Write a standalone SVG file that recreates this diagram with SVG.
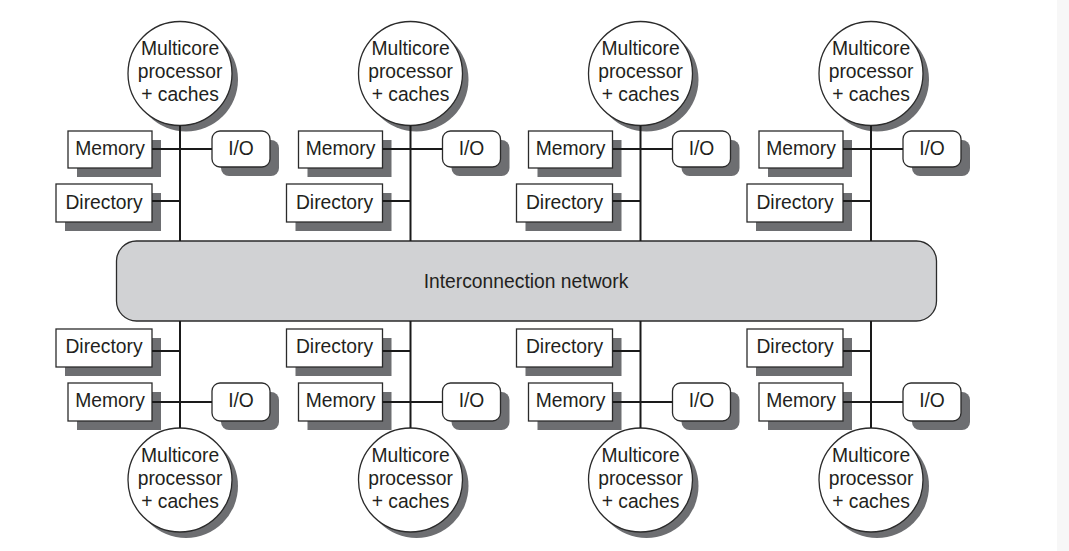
<svg xmlns="http://www.w3.org/2000/svg" width="1069" height="551" viewBox="0 0 1069 551">
<style>
.sh{fill:#6d6e71}
.box{fill:#ffffff;stroke:#2b2b2b;stroke-width:1.3}
.net{fill:#d1d2d4;stroke:#2b2b2b;stroke-width:1.3}
.t{font-family:"Liberation Sans",Arial,Helvetica,sans-serif;font-size:19.3px;fill:#231f20;text-anchor:middle}
.ln{stroke:#1a1a1a;stroke-width:2;fill:none}
</style>
<rect x="0" y="0" width="1069" height="551" fill="#ffffff"/>
<rect x="1057" y="0" width="12" height="551" fill="#f7f7f7"/>

<g id="network">
<rect class="net" x="116.5" y="241" width="820" height="80" rx="20"/>
<text class="t" x="526" y="288">Interconnection network</text>
</g>

<!-- Column 1 top -->
<g id="proc-t1"><circle class="sh" cx="186" cy="79.5" r="52"/><circle class="box" cx="180" cy="73.5" r="52"/><text class="t" x="180" y="55">Multicore</text><text class="t" x="180" y="78">processor</text><text class="t" x="180" y="101">+ caches</text></g>
<g id="mem-t1"><rect class="sh" x="77" y="140" width="84" height="37"/><rect class="box" x="68" y="131" width="84" height="37"/><text class="t" x="110" y="154.5">Memory</text></g>
<g id="io-t1"><rect class="sh" x="221" y="140" width="58" height="36" rx="8"/><rect class="box" x="212" y="131" width="58" height="36" rx="8"/><text class="t" x="241" y="154.5">I/O</text></g>
<g id="dir-t1"><rect class="sh" x="65" y="193" width="96" height="38"/><rect class="box" x="56" y="184" width="96" height="38"/><text class="t" x="104" y="208.5">Directory</text></g>

<!-- Column 2 top -->
<g id="proc-t2"><circle class="sh" cx="416.5" cy="79.5" r="52"/><circle class="box" cx="410.5" cy="73.5" r="52"/><text class="t" x="410.5" y="55">Multicore</text><text class="t" x="410.5" y="78">processor</text><text class="t" x="410.5" y="101">+ caches</text></g>
<g id="mem-t2"><rect class="sh" x="307.5" y="140" width="84" height="37"/><rect class="box" x="298.5" y="131" width="84" height="37"/><text class="t" x="340.5" y="154.5">Memory</text></g>
<g id="io-t2"><rect class="sh" x="451.5" y="140" width="58" height="36" rx="8"/><rect class="box" x="442.5" y="131" width="58" height="36" rx="8"/><text class="t" x="471.5" y="154.5">I/O</text></g>
<g id="dir-t2"><rect class="sh" x="295.5" y="193" width="96" height="38"/><rect class="box" x="286.5" y="184" width="96" height="38"/><text class="t" x="334.5" y="208.5">Directory</text></g>

<!-- Column 3 top -->
<g id="proc-t3"><circle class="sh" cx="646.5" cy="79.5" r="52"/><circle class="box" cx="640.5" cy="73.5" r="52"/><text class="t" x="640.5" y="55">Multicore</text><text class="t" x="640.5" y="78">processor</text><text class="t" x="640.5" y="101">+ caches</text></g>
<g id="mem-t3"><rect class="sh" x="537.5" y="140" width="84" height="37"/><rect class="box" x="528.5" y="131" width="84" height="37"/><text class="t" x="570.5" y="154.5">Memory</text></g>
<g id="io-t3"><rect class="sh" x="681.5" y="140" width="58" height="36" rx="8"/><rect class="box" x="672.5" y="131" width="58" height="36" rx="8"/><text class="t" x="701.5" y="154.5">I/O</text></g>
<g id="dir-t3"><rect class="sh" x="525.5" y="193" width="96" height="38"/><rect class="box" x="516.5" y="184" width="96" height="38"/><text class="t" x="564.5" y="208.5">Directory</text></g>

<!-- Column 4 top -->
<g id="proc-t4"><circle class="sh" cx="877" cy="79.5" r="52"/><circle class="box" cx="871" cy="73.5" r="52"/><text class="t" x="871" y="55">Multicore</text><text class="t" x="871" y="78">processor</text><text class="t" x="871" y="101">+ caches</text></g>
<g id="mem-t4"><rect class="sh" x="768" y="140" width="84" height="37"/><rect class="box" x="759" y="131" width="84" height="37"/><text class="t" x="801" y="154.5">Memory</text></g>
<g id="io-t4"><rect class="sh" x="912" y="140" width="58" height="36" rx="8"/><rect class="box" x="903" y="131" width="58" height="36" rx="8"/><text class="t" x="932" y="154.5">I/O</text></g>
<g id="dir-t4"><rect class="sh" x="756" y="193" width="96" height="38"/><rect class="box" x="747" y="184" width="96" height="38"/><text class="t" x="795" y="208.5">Directory</text></g>

<!-- Column 1 bottom -->
<g id="dir-b1"><rect class="sh" x="65" y="338" width="96" height="38"/><rect class="box" x="56" y="329" width="96" height="38"/><text class="t" x="104" y="353">Directory</text></g>
<g id="mem-b1"><rect class="sh" x="77" y="392" width="84" height="38"/><rect class="box" x="68" y="383" width="84" height="38"/><text class="t" x="110" y="407">Memory</text></g>
<g id="io-b1"><rect class="sh" x="221" y="392" width="58" height="38" rx="8"/><rect class="box" x="212" y="383" width="58" height="38" rx="8"/><text class="t" x="241" y="407">I/O</text></g>
<g id="proc-b1"><circle class="sh" cx="186" cy="486" r="52"/><circle class="box" cx="180" cy="480" r="52"/><text class="t" x="180" y="462">Multicore</text><text class="t" x="180" y="485">processor</text><text class="t" x="180" y="508">+ caches</text></g>

<!-- Column 2 bottom -->
<g id="dir-b2"><rect class="sh" x="295.5" y="338" width="96" height="38"/><rect class="box" x="286.5" y="329" width="96" height="38"/><text class="t" x="334.5" y="353">Directory</text></g>
<g id="mem-b2"><rect class="sh" x="307.5" y="392" width="84" height="38"/><rect class="box" x="298.5" y="383" width="84" height="38"/><text class="t" x="340.5" y="407">Memory</text></g>
<g id="io-b2"><rect class="sh" x="451.5" y="392" width="58" height="38" rx="8"/><rect class="box" x="442.5" y="383" width="58" height="38" rx="8"/><text class="t" x="471.5" y="407">I/O</text></g>
<g id="proc-b2"><circle class="sh" cx="416.5" cy="486" r="52"/><circle class="box" cx="410.5" cy="480" r="52"/><text class="t" x="410.5" y="462">Multicore</text><text class="t" x="410.5" y="485">processor</text><text class="t" x="410.5" y="508">+ caches</text></g>

<!-- Column 3 bottom -->
<g id="dir-b3"><rect class="sh" x="525.5" y="338" width="96" height="38"/><rect class="box" x="516.5" y="329" width="96" height="38"/><text class="t" x="564.5" y="353">Directory</text></g>
<g id="mem-b3"><rect class="sh" x="537.5" y="392" width="84" height="38"/><rect class="box" x="528.5" y="383" width="84" height="38"/><text class="t" x="570.5" y="407">Memory</text></g>
<g id="io-b3"><rect class="sh" x="681.5" y="392" width="58" height="38" rx="8"/><rect class="box" x="672.5" y="383" width="58" height="38" rx="8"/><text class="t" x="701.5" y="407">I/O</text></g>
<g id="proc-b3"><circle class="sh" cx="646.5" cy="486" r="52"/><circle class="box" cx="640.5" cy="480" r="52"/><text class="t" x="640.5" y="462">Multicore</text><text class="t" x="640.5" y="485">processor</text><text class="t" x="640.5" y="508">+ caches</text></g>

<!-- Column 4 bottom -->
<g id="dir-b4"><rect class="sh" x="756" y="338" width="96" height="38"/><rect class="box" x="747" y="329" width="96" height="38"/><text class="t" x="795" y="353">Directory</text></g>
<g id="mem-b4"><rect class="sh" x="768" y="392" width="84" height="38"/><rect class="box" x="759" y="383" width="84" height="38"/><text class="t" x="801" y="407">Memory</text></g>
<g id="io-b4"><rect class="sh" x="912" y="392" width="58" height="38" rx="8"/><rect class="box" x="903" y="383" width="58" height="38" rx="8"/><text class="t" x="932" y="407">I/O</text></g>
<g id="proc-b4"><circle class="sh" cx="877" cy="486" r="52"/><circle class="box" cx="871" cy="480" r="52"/><text class="t" x="871" y="462">Multicore</text><text class="t" x="871" y="485">processor</text><text class="t" x="871" y="508">+ caches</text></g>

<g id="connectors" class="ln">
<path d="M180 125.5V241M152 149H212M152 201H180M180 321V428M152 351H180M152 402H212"/>
<path d="M410.5 125.5V241M382.5 149H442.5M382.5 201H410.5M410.5 321V428M382.5 351H410.5M382.5 402H442.5"/>
<path d="M640.5 125.5V241M612.5 149H672.5M612.5 201H640.5M640.5 321V428M612.5 351H640.5M612.5 402H672.5"/>
<path d="M871 125.5V241M843 149H903M843 201H871M871 321V428M843 351H871M843 402H903"/>
</g>
</svg>
